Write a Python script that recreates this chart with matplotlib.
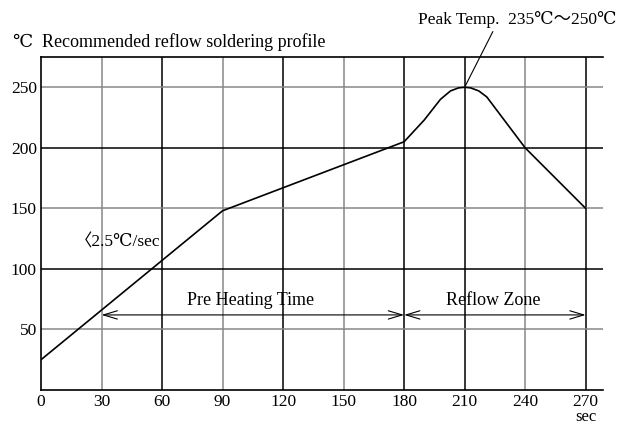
import matplotlib
matplotlib.use('Agg')
import matplotlib.pyplot as plt

# profile
time_s = [0, 90, 180, 190, 198, 203, 207, 210, 213, 217, 221, 240, 270]
temp_c = [25, 148, 205, 223, 240, 247, 249.5, 250, 249.5, 247, 242, 200, 150]

x_ticks = [0, 30, 60, 90, 120, 150, 180, 210, 240, 270]
y_ticks = [50, 100, 150, 200, 250]
x_grid_dark = [60, 120, 180, 210, 270]
y_grid_dark = [100, 200]

zones = [(30, 180, 'Pre Heating Time'), (180, 270, 'Reflow Zone')]
peak = (210, 250)

fam = ['Liberation Serif', 'DejaVu Serif', 'Noto Sans CJK JP']
plt.rcParams['font.family'] = fam

fig = plt.figure(figsize=(6.18, 4.25), dpi=100)
ax = fig.add_axes([41 / 618, 35 / 425, 562 / 618, 333 / 425])
ax.set_xlim(0, 278.6)
ax.set_ylim(0, 275)

# grid, alternating grey / black lines
for x in x_ticks[1:]:
    c = 'black' if x in x_grid_dark else '#888888'
    ax.axvline(x, color=c, lw=1.1, zorder=1)
for y in y_ticks:
    c = 'black' if y in y_grid_dark else '#888888'
    ax.axhline(y, color=c, lw=1.1, zorder=1)

ax.plot(time_s, temp_c, color='black', lw=1.2, zorder=3)

for x0, x1, label in zones:
    ax.annotate('', xy=(x0, 62), xytext=(x1, 62),
                arrowprops=dict(arrowstyle='<->,head_length=1.0,head_width=0.3',
                                color='black', lw=0.8, shrinkA=0, shrinkB=0))
    ax.text((x0 + x1) / 2 - 1, 74, label, ha='center', va='center', fontsize=13)

ax.text(17, 122, '〈2.5℃/sec', ha='left', va='center', fontsize=12.5)

ax.annotate('', xy=peak, xytext=(224, 296), annotation_clip=False,
            arrowprops=dict(arrowstyle='-', color='black', lw=0.8,
                            shrinkA=0, shrinkB=0))
fig.text(616 / 618, 0.953, 'Peak Temp.  235℃～250℃', ha='right', va='center',
         fontsize=12.5)

fig.text(12 / 618, 0.901, '℃', ha='left', va='center', fontsize=13)
fig.text(42 / 618, 0.901, 'Recommended reflow soldering profile', ha='left',
         va='center', fontsize=13)

ax.set_xticks(x_ticks)
ax.set_yticks(y_ticks)
ax.tick_params(length=0, labelsize=12.5, pad=3)
ax.spines['right'].set_visible(False)
for s in ['left', 'bottom', 'top']:
    ax.spines[s].set_linewidth(1.2)
ax.text(270, -22, 'sec', ha='center', va='center', fontsize=12,
        clip_on=False)

fig.savefig('out.png', dpi=100)
